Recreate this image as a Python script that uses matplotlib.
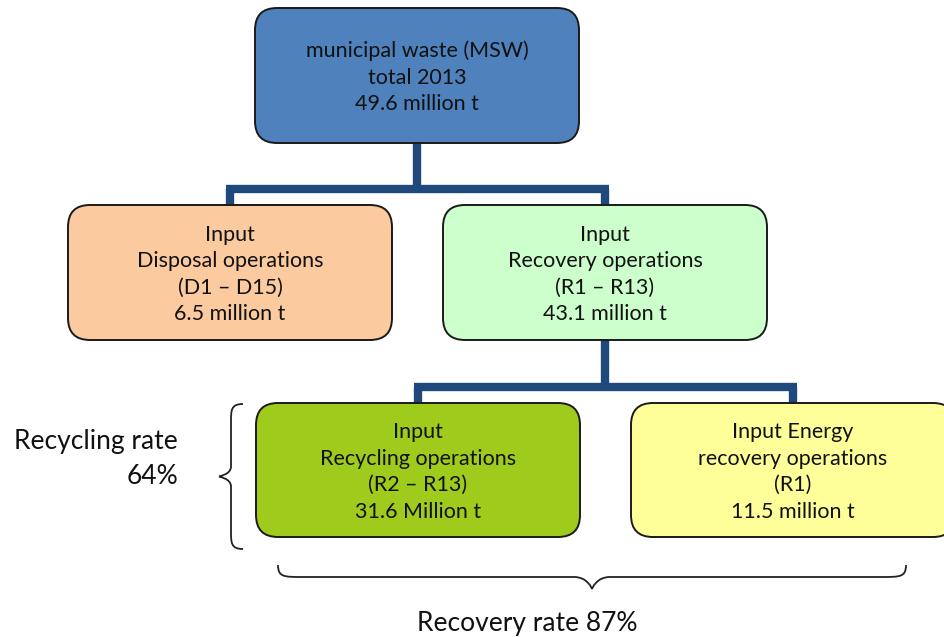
import matplotlib.pyplot as plt
from matplotlib.patches import FancyBboxPatch, PathPatch
from matplotlib.path import Path

# box contents (text lines) and fill colours
box_names = ["total", "disposal", "recovery", "recycling", "energy"]
box_lines = [
    ["municipal waste (MSW)", "total 2013", "49.6 million t"],
    ["Input", "Disposal operations", "(D1 \u2013 D15)", "6.5 million t"],
    ["Input", "Recovery operations", "(R1 \u2013 R13)", "43.1 million t"],
    ["Input", "Recycling operations", "(R2 \u2013 R13)", "31.6 Million t"],
    ["Input Energy", "recovery operations", "(R1)", "11.5 million t"],
]
box_colors = ["#4f81bd", "#fbca9f", "#ccffcc", "#9fcc1c", "#ffff99"]

recycling_rate = 64
recovery_rate = 87

# layout in pixel units (x left, y top, width, height)
box_xy = {
    "total": (255, 8, 324, 135),
    "disposal": (68, 205, 324, 135),
    "recovery": (443, 205, 324, 135),
    "recycling": (256, 403, 324, 134),
    "energy": (631, 403, 324, 134),
}
line_step = 26.5
connector_color = "#1f497d"

plt.rcParams['font.family'] = ['Lato', 'DejaVu Sans']

fig = plt.figure(figsize=(9.44, 6.37), dpi=100)
ax = fig.add_axes([0, 0, 1, 1])
ax.set_xlim(0, 944)
ax.set_ylim(637, 0)
ax.axis('off')


def center(name):
    x, y, w, h = box_xy[name]
    return x + w / 2, y + h / 2


def connect(parent, children):
    px, py, pw, ph = box_xy[parent]
    cx_parent = px + pw / 2
    kids = [center(c)[0] for c in children]
    top_child = min(box_xy[c][1] for c in children)
    ymid = py + ph + (top_child - (py + ph)) * 0.74
    kw = dict(color=connector_color, lw=6, solid_capstyle='butt', zorder=1)
    ax.plot([cx_parent, cx_parent], [py + ph, ymid], **kw)
    ax.plot([min(kids) - 4, max(kids) + 4], [ymid, ymid], **kw)
    for kx in kids:
        ax.plot([kx, kx], [ymid, top_child], **kw)


connect("total", ["disposal", "recovery"])
connect("recovery", ["recycling", "energy"])

for name, lines, col in zip(box_names, box_lines, box_colors):
    x, y, w, h = box_xy[name]
    patch = FancyBboxPatch((x, y), w, h,
                           boxstyle="round,pad=0,rounding_size=22",
                           facecolor=col, edgecolor="#1a1a1a", lw=1.4, zorder=2)
    ax.add_patch(patch)
    cx, cy = center(name)
    n = len(lines)
    for i, txt in enumerate(lines):
        ty = cy + 2 + (i - (n - 1) / 2) * line_step
        ax.text(cx, ty, txt, ha='center', va='center', fontsize=15.5,
                color="#111111", zorder=3)


def brace_vertical(x, y0, y1, depth):
    # left-pointing curly brace
    ym = (y0 + y1) / 2
    d = depth
    verts = [(x + d * 0.5, y0),
             (x, y0), (x, y0 + 6), (x, y0 + 18),
             (x, ym - 10),
             (x, ym - 2), (x - d * 0.5, ym), (x - d * 0.5, ym),
             (x - d * 0.5, ym), (x, ym + 2), (x, ym + 10),
             (x, y1 - 18),
             (x, y1 - 6), (x, y1), (x + d * 0.5, y1)]
    codes = [Path.MOVETO,
             Path.CURVE4, Path.CURVE4, Path.CURVE4,
             Path.LINETO,
             Path.CURVE4, Path.CURVE4, Path.CURVE4,
             Path.CURVE4, Path.CURVE4, Path.CURVE4,
             Path.LINETO,
             Path.CURVE4, Path.CURVE4, Path.CURVE4]
    ax.add_patch(PathPatch(Path(verts, codes), fill=False, lw=1.3,
                           edgecolor="#222222"))


def brace_horizontal(x0, x1, y, depth):
    # downward-pointing curly brace
    xm = (x0 + x1) / 2
    d = depth
    verts = [(x0, y - d * 0.5),
             (x0, y), (x0 + 6, y), (x0 + 24, y),
             (xm - 18, y),
             (xm - 4, y), (xm, y + d * 0.5), (xm, y + d * 0.5),
             (xm, y + d * 0.5), (xm + 4, y), (xm + 18, y),
             (x1 - 24, y),
             (x1 - 6, y), (x1, y), (x1, y - d * 0.5)]
    codes = [Path.MOVETO,
             Path.CURVE4, Path.CURVE4, Path.CURVE4,
             Path.LINETO,
             Path.CURVE4, Path.CURVE4, Path.CURVE4,
             Path.CURVE4, Path.CURVE4, Path.CURVE4,
             Path.LINETO,
             Path.CURVE4, Path.CURVE4, Path.CURVE4]
    ax.add_patch(PathPatch(Path(verts, codes), fill=False, lw=1.3,
                           edgecolor="#222222"))


brace_vertical(231, 404, 549, 24)
brace_horizontal(278, 906, 577, 24)

ax.text(178, 441, "Recycling rate", ha='right', va='center', fontsize=19,
        color="#111111")
ax.text(178, 476, f"{recycling_rate}%", ha='right', va='center', fontsize=19,
        color="#111111")
ax.text(527, 624, f"Recovery rate {recovery_rate}%", ha='center', va='center',
        fontsize=19, color="#111111")

fig.savefig("out.png", dpi=100)
